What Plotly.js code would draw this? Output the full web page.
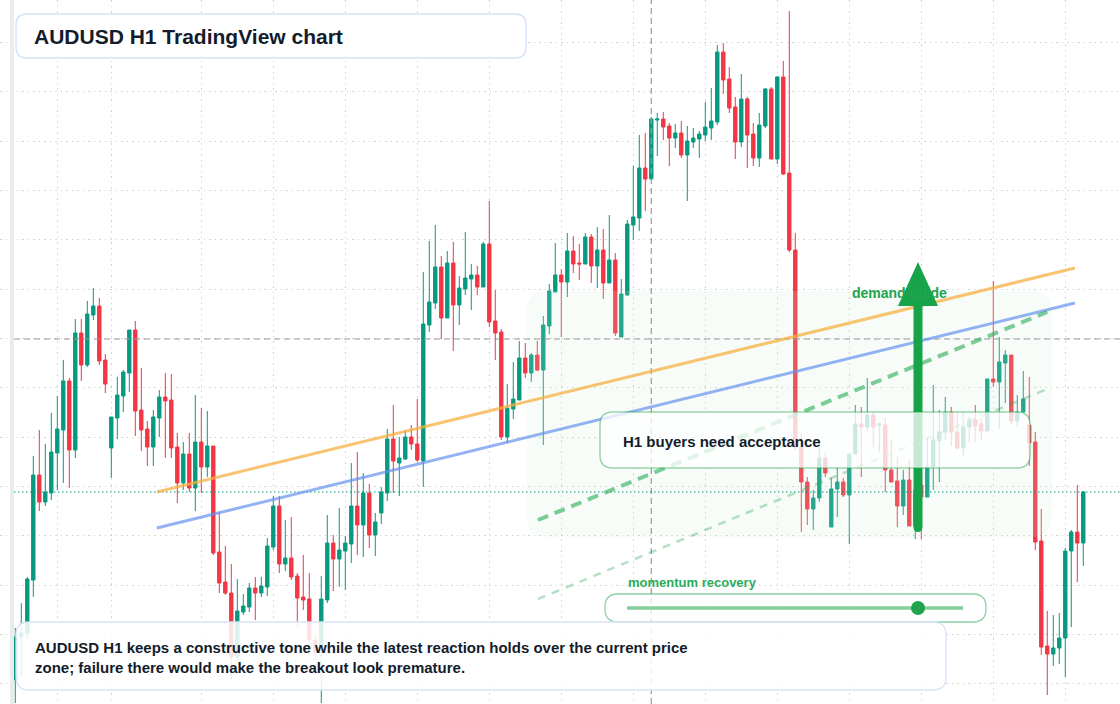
<!DOCTYPE html>
<html>
<head>
<meta charset="utf-8">
<script src="https://cdn.plot.ly/plotly-3.0.1.min.js"></script>
<style>
  html, body { margin: 0; padding: 0; background: #fff; }
  #plot { width: 1120px; height: 704px; }
</style>
</head>
<body>
<div id="plot"></div>
<script>
// AUDUSD H1 candles (oldest first)
const opens = [
  0.65318,0.65404,0.65412,0.65518,0.65728,0.65674,0.65692,0.65772,0.65818,0.65916,
  0.65778,0.66012,0.65948,0.66048,0.66066,0.65958,0.65782,0.65842,0.65886,0.65932,
  0.66018,0.65858,0.65820,0.65784,0.65842,0.65884,0.65878,0.65784,0.65712,0.65770,
  0.65702,0.65794,0.65744,0.65786,0.65574,0.65514,0.65492,0.65364,0.65454,0.65464,
  0.65502,0.65492,0.65504,0.65584,0.65666,0.65550,0.65562,0.65526,0.65484,0.65480,
  0.65398,0.65374,0.65478,0.65592,0.65560,0.65576,0.65590,0.65666,0.65628,0.65692,
  0.65608,0.65652,0.65692,0.65800,0.65752,0.65760,0.65804,0.65790,0.65756,0.66028,
  0.66072,0.66144,0.66042,0.66152,0.66068,0.66100,0.66120,0.66128,0.66104,0.66190,
  0.66036,0.66014,0.65804,0.65860,0.65878,0.65962,0.65932,0.65968,0.65938,0.66026,
  0.66094,0.66128,0.66114,0.66176,0.66152,0.66150,0.66204,0.66146,0.66178,0.66112,
  0.66158,0.66004,0.66088,0.66228,0.66242,0.66342,0.66320,0.66438,0.66440,0.66426,
  0.66402,0.66412,0.66368,0.66394,0.66400,0.66408,0.66422,0.66434,0.66574,0.66520,
  0.66464,0.66394,0.66480,0.66410,0.66362,0.66426,0.66500,0.66360,0.66524,0.66332,
  0.66178,0.65784,0.65714,0.65660,0.65682,0.65762,0.65624,0.65700,0.65714,0.65688,
  0.65770,0.65830,0.65824,0.65848,0.65828,0.65828,0.65738,0.65716,0.65666,0.65718,
  0.65626,0.65708,0.65684,0.65744,0.65796,0.65814,0.65854,0.65814,0.65782,0.65824,
  0.65838,0.65830,0.65816,0.65920,0.65914,0.65952,0.65968,0.65836,0.65854,0.65828,
  0.65794,0.65596,0.65386,0.65370,0.65382,0.65402,0.65576,0.65614,0.65592
];
const highs = [
  0.65422,0.65472,0.65524,0.65766,0.65818,0.65790,0.65852,0.65886,0.65958,0.65922,
  0.66040,0.66040,0.66076,0.66102,0.66082,0.65970,0.65844,0.65924,0.65938,0.66018,
  0.66036,0.65942,0.65836,0.65858,0.65898,0.65932,0.65930,0.65812,0.65794,0.65812,
  0.65888,0.65862,0.65856,0.65786,0.65654,0.65586,0.65550,0.65520,0.65490,0.65512,
  0.65524,0.65524,0.65602,0.65686,0.65686,0.65638,0.65644,0.65532,0.65568,0.65532,
  0.65406,0.65526,0.65648,0.65608,0.65662,0.65606,0.65752,0.65774,0.65732,0.65710,
  0.65652,0.65704,0.65820,0.65868,0.65804,0.65818,0.65828,0.65880,0.66134,0.66196,
  0.66228,0.66166,0.66176,0.66194,0.66126,0.66214,0.66150,0.66146,0.66194,0.66276,
  0.66098,0.66020,0.65910,0.65954,0.65996,0.65992,0.65972,0.65996,0.66046,0.66110,
  0.66192,0.66140,0.66212,0.66206,0.66190,0.66212,0.66210,0.66224,0.66220,0.66248,
  0.66172,0.66120,0.66238,0.66346,0.66408,0.66412,0.66444,0.66452,0.66454,0.66432,
  0.66430,0.66436,0.66426,0.66422,0.66416,0.66474,0.66502,0.66588,0.66592,0.66544,
  0.66484,0.66530,0.66484,0.66432,0.66452,0.66502,0.66504,0.66526,0.66556,0.66656,
  0.66212,0.65810,0.65724,0.65698,0.65792,0.65772,0.65722,0.65742,0.65722,0.65770,
  0.65868,0.65864,0.65922,0.65854,0.65832,0.65844,0.65798,0.65764,0.65738,0.65760,
  0.65728,0.65722,0.65804,0.65908,0.65858,0.65884,0.65864,0.65854,0.65854,0.65844,
  0.65868,0.65842,0.65920,0.66116,0.66004,0.65978,0.65968,0.65888,0.65936,0.65924,
  0.65814,0.65660,0.65456,0.65448,0.65452,0.65582,0.65618,0.65708,0.65696
];
const lows = [
  0.65272,0.65324,0.65398,0.65484,0.65656,0.65666,0.65678,0.65698,0.65712,0.65702,
  0.65762,0.65916,0.65944,0.66038,0.65948,0.65892,0.65722,0.65800,0.65854,0.65894,
  0.65806,0.65776,0.65746,0.65746,0.65804,0.65762,0.65762,0.65672,0.65698,0.65694,
  0.65656,0.65692,0.65724,0.65568,0.65492,0.65488,0.65318,0.65358,0.65448,0.65454,
  0.65438,0.65484,0.65486,0.65578,0.65532,0.65536,0.65518,0.65426,0.65458,0.65364,
  0.65358,0.65272,0.65472,0.65496,0.65504,0.65498,0.65552,0.65568,0.65564,0.65582,
  0.65566,0.65630,0.65676,0.65692,0.65686,0.65758,0.65778,0.65754,0.65704,0.66014,
  0.66060,0.66000,0.66042,0.65976,0.66028,0.66088,0.66058,0.66088,0.66104,0.66024,
  0.65958,0.65798,0.65792,0.65840,0.65878,0.65922,0.65914,0.65936,0.65788,0.66010,
  0.66094,0.66004,0.66084,0.66132,0.66118,0.66150,0.66112,0.66102,0.66080,0.66112,
  0.66006,0.66004,0.66086,0.66198,0.66216,0.66256,0.66318,0.66366,0.66398,0.66346,
  0.66382,0.66362,0.66276,0.66382,0.66362,0.66396,0.66398,0.66428,0.66490,0.66452,
  0.66360,0.66384,0.66342,0.66346,0.66344,0.66422,0.66360,0.66350,0.66328,0.66174,
  0.65778,0.65614,0.65628,0.65618,0.65674,0.65724,0.65624,0.65644,0.65684,0.65590,
  0.65770,0.65724,0.65818,0.65784,0.65774,0.65694,0.65714,0.65624,0.65648,0.65626,
  0.65600,0.65600,0.65684,0.65698,0.65714,0.65798,0.65786,0.65780,0.65764,0.65792,
  0.65794,0.65798,0.65816,0.65904,0.65820,0.65872,0.65828,0.65824,0.65854,0.65746,
  0.65578,0.65368,0.65288,0.65346,0.65350,0.65324,0.65424,0.65514,0.65546
];
const closes = [
  0.65404,0.65412,0.65520,0.65728,0.65674,0.65694,0.65774,0.65820,0.65916,0.65778,
  0.66012,0.65948,0.66050,0.66066,0.65956,0.65910,0.65844,0.65888,0.65934,0.66018,
  0.65856,0.65818,0.65784,0.65844,0.65884,0.65876,0.65782,0.65712,0.65770,0.65702,
  0.65794,0.65744,0.65786,0.65572,0.65512,0.65492,0.65364,0.65456,0.65466,0.65502,
  0.65492,0.65506,0.65586,0.65666,0.65550,0.65562,0.65524,0.65482,0.65478,0.65398,
  0.65374,0.65480,0.65592,0.65560,0.65578,0.65592,0.65666,0.65628,0.65692,0.65608,
  0.65634,0.65694,0.65800,0.65756,0.65762,0.65804,0.65790,0.65758,0.66030,0.66074,
  0.66144,0.66042,0.66152,0.66068,0.66102,0.66122,0.66128,0.66104,0.66190,0.66034,
  0.66012,0.65804,0.65862,0.65880,0.65962,0.65932,0.65968,0.65938,0.66028,0.66096,
  0.66128,0.66114,0.66176,0.66150,0.66150,0.66204,0.66146,0.66178,0.66112,0.66158,
  0.66012,0.66090,0.66230,0.66244,0.66342,0.66320,0.66440,0.66440,0.66424,0.66402,
  0.66412,0.66368,0.66396,0.66402,0.66410,0.66424,0.66436,0.66574,0.66518,0.66462,
  0.66394,0.66480,0.66408,0.66362,0.66428,0.66500,0.66360,0.66524,0.66330,0.66178,
  0.65784,0.65714,0.65660,0.65682,0.65762,0.65732,0.65700,0.65714,0.65688,0.65770,
  0.65830,0.65824,0.65848,0.65824,0.65830,0.65738,0.65714,0.65666,0.65718,0.65626,
  0.65698,0.65684,0.65744,0.65798,0.65814,0.65854,0.65814,0.65782,0.65824,0.65838,
  0.65826,0.65816,0.65920,0.65914,0.65954,0.65968,0.65836,0.65854,0.65880,0.65792,
  0.65594,0.65384,0.65370,0.65382,0.65402,0.65576,0.65614,0.65592,0.65694
];

// drawn levels / trend lines (bar index, price)
const crossBar = 106;
const crossPrice = 0.66000;
const lastPrice = closes[closes.length - 1];
const orangeLine = { x: [23.6, 176.6], y: [0.65694, 0.66142] };
const blueLine = { x: [23.6, 176.6], y: [0.65622, 0.66072] };
const guideUpper = { x: [87.1, 172], y: [0.65638, 0.66054] };
const guideLower = { x: [87.1, 172], y: [0.65480, 0.65900] };
const timeGrid = [7, 16, 31, 43, 55, 67, 79, 91, 103, 115, 127, 139, 151, 163, 175];

const bars = opens.map((_, i) => i);

const W = 1120, H = 704;
const px = x => x / W;
const py = y => 1 - y / H;

function roundRect(x0, y0, x1, y1, r) {
  return 'M' + px(x0 + r) + ',' + py(y0) +
    ' L' + px(x1 - r) + ',' + py(y0) +
    ' Q' + px(x1) + ',' + py(y0) + ' ' + px(x1) + ',' + py(y0 + r) +
    ' L' + px(x1) + ',' + py(y1 - r) +
    ' Q' + px(x1) + ',' + py(y1) + ' ' + px(x1 - r) + ',' + py(y1) +
    ' L' + px(x0 + r) + ',' + py(y1) +
    ' Q' + px(x0) + ',' + py(y1) + ' ' + px(x0) + ',' + py(y1 - r) +
    ' L' + px(x0) + ',' + py(y0 + r) +
    ' Q' + px(x0) + ',' + py(y0) + ' ' + px(x0 + r) + ',' + py(y0) + ' Z';
}

const candles = {
  type: 'candlestick',
  x: bars,
  open: opens,
  high: highs,
  low: lows,
  close: closes,
  increasing: { line: { color: '#089981', width: 1 }, fillcolor: '#089981' },
  decreasing: { line: { color: '#f23645', width: 1 }, fillcolor: '#f23645' },
  whiskerwidth: 0,
  hoverinfo: 'skip',
};

const FONT = 'Liberation Sans, Arial, sans-serif';
const GREEN = '#16a34a';

const shapes = [
  // demand zone (light wash over the candles)
  { type: 'path', xref: 'paper', yref: 'paper', layer: 'above',
    path: roundRect(527, 291, 1052, 537, 20),
    fillcolor: 'rgba(205,238,210,0.16)', line: { width: 0 } },
  // crosshair
  { type: 'line', xref: 'paper', yref: 'y', x0: px(14), x1: 1, y0: crossPrice, y1: crossPrice,
    layer: 'above', line: { color: '#9a9a9a', width: 1.2, dash: '6px,4px' } },
  { type: 'line', xref: 'x', yref: 'paper', x0: crossBar, x1: crossBar, y0: 0, y1: 1,
    layer: 'above', line: { color: '#9a9a9a', width: 1.2, dash: '6px,4px' } },
  // last price
  { type: 'line', xref: 'paper', yref: 'y', x0: px(14), x1: 1, y0: lastPrice, y1: lastPrice,
    layer: 'above', line: { color: '#089981', width: 1, dash: '1.5px,2.5px' } },
  // trend lines
  { type: 'line', xref: 'x', yref: 'y', x0: orangeLine.x[0], x1: orangeLine.x[1],
    y0: orangeLine.y[0], y1: orangeLine.y[1], layer: 'above',
    line: { color: 'rgba(245,176,65,0.75)', width: 3 } },
  { type: 'line', xref: 'x', yref: 'y', x0: blueLine.x[0], x1: blueLine.x[1],
    y0: blueLine.y[0], y1: blueLine.y[1], layer: 'above',
    line: { color: 'rgba(100,145,240,0.7)', width: 3 } },
  { type: 'line', xref: 'x', yref: 'y', x0: guideUpper.x[0], x1: guideUpper.x[1],
    y0: guideUpper.y[0], y1: guideUpper.y[1], layer: 'above',
    line: { color: 'rgba(40,170,85,0.6)', width: 4, dash: '11px,7px' } },
  { type: 'line', xref: 'x', yref: 'y', x0: guideLower.x[0], x1: guideLower.x[1],
    y0: guideLower.y[0], y1: guideLower.y[1], layer: 'above',
    line: { color: 'rgba(40,170,85,0.35)', width: 2.5, dash: '8px,7px' } },
  // big arrow
  { type: 'path', xref: 'paper', yref: 'paper', layer: 'above',
    path: 'M' + px(918) + ',' + py(262) + ' L' + px(938) + ',' + py(306) +
      ' L' + px(922.5) + ',' + py(306) + ' L' + px(922.5) + ',' + py(527) +
      ' Q' + px(922.5) + ',' + py(532) + ' ' + px(918) + ',' + py(532) +
      ' Q' + px(913.5) + ',' + py(532) + ' ' + px(913.5) + ',' + py(527) +
      ' L' + px(913.5) + ',' + py(306) + ' L' + px(898) + ',' + py(306) + ' Z',
    fillcolor: GREEN, line: { width: 0 } },
  // left strip
  { type: 'rect', xref: 'paper', yref: 'paper', x0: px(10), x1: px(14), y0: 0, y1: 1,
    layer: 'above', fillcolor: '#ebebeb', line: { width: 0 } },
  // title box
  { type: 'path', xref: 'paper', yref: 'paper', layer: 'above',
    path: roundRect(16, 14, 526, 58, 11),
    fillcolor: 'rgba(255,255,255,0.97)', line: { color: '#d4e2f7', width: 1.3 } },
  // note box
  { type: 'path', xref: 'paper', yref: 'paper', layer: 'above',
    path: roundRect(600, 412, 1030, 468, 13),
    fillcolor: 'rgba(255,255,255,0.76)', line: { color: 'rgba(34,163,74,0.45)', width: 1.5 } },
  // momentum track
  { type: 'path', xref: 'paper', yref: 'paper', layer: 'above',
    path: roundRect(605, 594, 986, 622, 13),
    fillcolor: 'rgba(255,255,255,0.7)', line: { color: 'rgba(34,163,74,0.5)', width: 1.3 } },
  { type: 'line', xref: 'paper', yref: 'paper', x0: px(627), x1: px(963), y0: py(608), y1: py(608),
    layer: 'above', line: { color: '#86cf9b', width: 3.5 } },
  { type: 'circle', xref: 'paper', yref: 'paper', x0: px(911), x1: px(925), y0: py(615), y1: py(601),
    layer: 'above', fillcolor: '#22a34f', line: { width: 0 } },
  // bottom commentary box
  { type: 'path', xref: 'paper', yref: 'paper', layer: 'above',
    path: roundRect(16, 622, 946, 690, 13),
    fillcolor: 'rgba(255,255,255,0.86)', line: { color: '#d6e3f8', width: 1.3 } },
];

const annotations = [
  { xref: 'paper', yref: 'paper', x: px(32), y: py(36), xanchor: 'left', yanchor: 'middle',
    showarrow: false, text: 'AUDUSD H1 TradingView chart',
    font: { family: FONT, size: 21, weight: 700, color: '#131c2b' } },
  { xref: 'paper', yref: 'paper', x: px(850), y: py(293), xanchor: 'left', yanchor: 'middle',
    showarrow: false, text: 'demand guide',
    font: { family: FONT, size: 14, weight: 700, color: '#22a34f' } },
  { xref: 'paper', yref: 'paper', x: px(621), y: py(441), xanchor: 'left', yanchor: 'middle',
    showarrow: false, text: 'H1 buyers need acceptance',
    font: { family: FONT, size: 15, weight: 700, color: '#131c2b' } },
  { xref: 'paper', yref: 'paper', x: px(626), y: py(582), xanchor: 'left', yanchor: 'middle',
    showarrow: false, text: 'momentum recovery',
    font: { family: FONT, size: 13, weight: 700, color: '#2aad58' } },
  { xref: 'paper', yref: 'paper', x: px(33), y: py(657.5), xanchor: 'left', yanchor: 'middle',
    align: 'left', showarrow: false,
    text: 'AUDUSD H1 keeps a constructive tone while the latest reaction holds over the current price<br>zone; failure there would make the breakout look premature.',
    font: { family: FONT, size: 15, weight: 700, color: '#131c2b' } },
];

const layout = {
  width: W,
  height: H,
  margin: { l: 0, r: 0, t: 0, b: 0 },
  paper_bgcolor: '#ffffff',
  plot_bgcolor: '#ffffff',
  showlegend: false,
  dragmode: false,
  boxgap: 0.2,
  xaxis: {
    range: [-2.55, 184.12],
    rangeslider: { visible: false },
    tickmode: 'array',
    tickvals: timeGrid,
    showticklabels: false,
    ticks: '',
    showgrid: true,
    gridcolor: '#d2d2d2',
    griddash: '1.5px,4px',
    zeroline: false,
    showline: false,
  },
  yaxis: {
    range: [0.6527, 0.66678],
    tickmode: 'linear',
    tick0: 0.660012,
    dtick: 0.000987,
    showticklabels: false,
    ticks: '',
    showgrid: true,
    gridcolor: '#d2d2d2',
    griddash: '1.5px,4px',
    zeroline: false,
    showline: false,
  },
  shapes: shapes,
  annotations: annotations,
};

const config = {
  staticPlot: true,
  displayModeBar: false,
};

Plotly.newPlot('plot', [candles], layout, config);
</script>
</body>
</html>
